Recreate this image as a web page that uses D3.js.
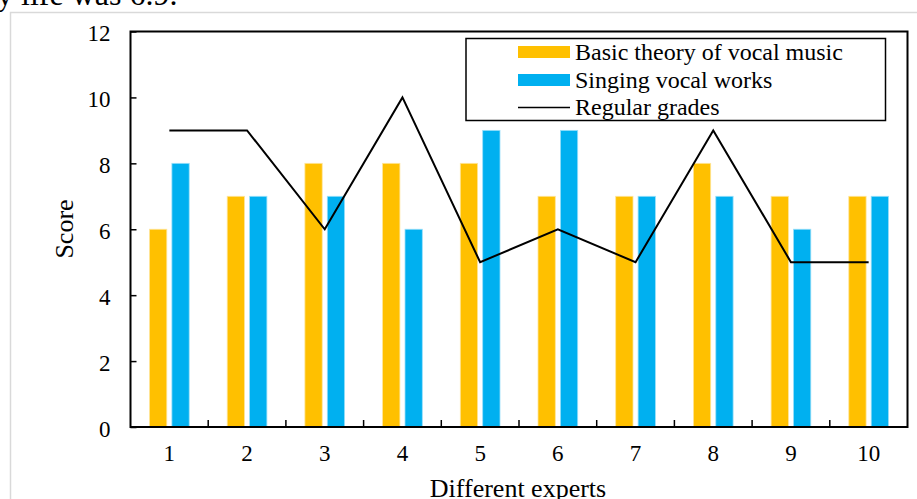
<!DOCTYPE html>
<html><head><meta charset="utf-8">
<script src="https://cdn.jsdelivr.net/npm/d3@7"></script>
<style>body{margin:0;background:#fff;} svg{display:block;}</style>
</head><body>
<svg id="c" width="917" height="499"></svg>
<script>
const experts = ["1","2","3","4","5","6","7","8","9","10"];
const basicTheory = [6,7,8,8,8,7,7,8,7,7];
const singingWorks = [8,7,7,6,9,9,7,7,6,7];
const regularGrades = [9,9,6,10,5,6,5,9,5,5];
const yTicks = [0,2,4,6,8,10,12];
const seriesNames = ["Basic theory of vocal music","Singing vocal works","Regular grades"];
const colors = ["#FFC000","#00B0F0","#000000"];

const svg = d3.select("#c");
const font = "'Liberation Serif','Times New Roman',serif";
const L = 130.5, R = 907.5, T = 31.5, B = 427;

// caption fragment and outer frame
svg.append("text").attr("x",-3).attr("y",4.5).attr("font-family",font).attr("font-size",32).attr("fill","#000").text("y life was 6.9.");
svg.append("path").attr("d","M10.5,520 V12.5 H930").attr("fill","none").attr("stroke","#d9d9d9").attr("stroke-width",1.5);

const x = d3.scaleBand().domain(experts).range([L,R]);
const y = d3.scaleLinear().domain([0,12]).range([B,T]);
const bw = 17.3, off = 11.2;

const g = svg.append("g");
g.selectAll("rect.a").data(basicTheory).join("rect")
  .attr("x",(d,i)=>x(experts[i])+x.bandwidth()/2-off-bw/2).attr("y",d=>y(d))
  .attr("width",bw).attr("height",d=>B-y(d)).attr("fill",colors[0]).attr("stroke","#ffe599").attr("stroke-width",0.8);
g.selectAll("rect.b").data(singingWorks).join("rect")
  .attr("x",(d,i)=>x(experts[i])+x.bandwidth()/2+off-bw/2).attr("y",d=>y(d))
  .attr("width",bw).attr("height",d=>B-y(d)).attr("fill",colors[1]).attr("stroke","#99dff9").attr("stroke-width",0.8);

const line = d3.line().x((d,i)=>x(experts[i])+x.bandwidth()/2).y(d=>y(d));
g.append("path").datum(regularGrades).attr("d",line).attr("fill","none").attr("stroke","#000").attr("stroke-width",2);

// plot frame
svg.append("rect").attr("x",L).attr("y",T).attr("width",R-L).attr("height",B-T).attr("fill","none").attr("stroke","#000").attr("stroke-width",2);

// y axis
const ya = svg.append("g").attr("transform",`translate(${L},0)`).call(d3.axisLeft(y).tickValues(yTicks).tickSize(6).tickSizeOuter(0));
ya.select(".domain").remove();
ya.selectAll("line").attr("stroke","#000").attr("stroke-width",1.5).attr("x2",6);
ya.selectAll("text").attr("x",-20).attr("dy","0.4em").attr("font-family",font).attr("font-size",23).attr("fill","#000");

// x axis
const xa = svg.append("g").attr("transform",`translate(0,${B})`).call(d3.axisBottom(x).tickSize(0));
xa.select(".domain").remove();
xa.selectAll("text").attr("y",18).attr("font-family",font).attr("font-size",23).attr("fill","#000");
const bounds = experts.slice(1).map(e=>x(e));
svg.append("g").selectAll("line").data(bounds).join("line")
  .attr("x1",d=>d).attr("x2",d=>d).attr("y1",B).attr("y2",B-7).attr("stroke","#000").attr("stroke-width",1.5);

// axis titles
svg.append("text").attr("transform","translate(73,229) rotate(-90)").attr("text-anchor","middle")
  .attr("font-family",font).attr("font-size",26).attr("fill","#000").text("Score");
svg.append("text").attr("x",518).attr("y",497).attr("text-anchor","middle")
  .attr("font-family",font).attr("font-size",26).attr("fill","#000").text("Different experts");

// legend
const lg = svg.append("g");
lg.append("rect").attr("x",466).attr("y",38.5).attr("width",419.5).attr("height",82).attr("fill","#fff").attr("stroke","#000").attr("stroke-width",1.5);
const rows = [52,80,107.5];
seriesNames.forEach((n,i)=>{
  if(i<2){
    lg.append("rect").attr("x",518).attr("y",rows[i]-6).attr("width",52).attr("height",12).attr("fill",colors[i]);
  } else {
    lg.append("line").attr("x1",518).attr("x2",570).attr("y1",rows[i]).attr("y2",rows[i]).attr("stroke","#000").attr("stroke-width",1.5);
  }
  lg.append("text").attr("x",575).attr("y",rows[i]+7.5).attr("font-family",font).attr("font-size",24).attr("fill","#000").text(n);
});
</script>
</body></html>
